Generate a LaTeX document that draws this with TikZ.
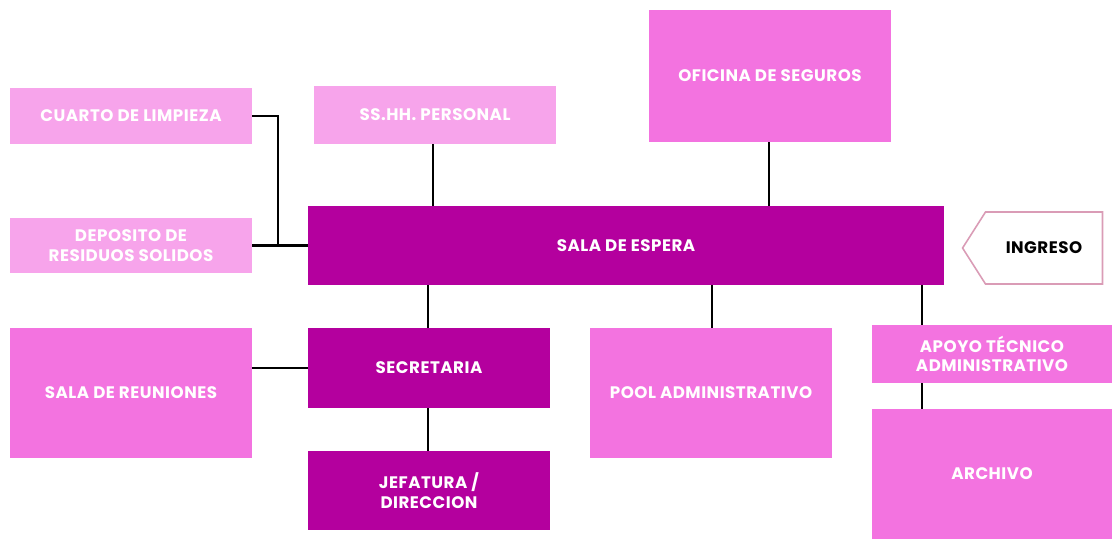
\documentclass[tikz,border=0pt]{standalone}
\usepackage{fontspec}
\setmainfont{Poppins}[LetterSpace=3]
\usetikzlibrary{shapes.symbols}
\definecolor{rosaclaro}{HTML}{F7A4EB}
\definecolor{rosamedio}{HTML}{F373E0}
\definecolor{magenta}{HTML}{B4009E}
\definecolor{borde}{HTML}{DA9CB6}
\tikzset{
  area/.style={text=white,font=\bfseries\fontsize{9.5}{11}\selectfont,align=center,inner sep=0pt},
  claro/.style={area,fill=rosaclaro},
  medio/.style={area,fill=rosamedio},
  oscuro/.style={area,fill=magenta},
  enlace/.style={line width=1.2pt,black}
}
\begin{document}
\begin{tikzpicture}[x=0.02cm,y=-0.02cm]
\useasboundingbox (0,0) rectangle (1112,539);
\node[claro,minimum width=4.84cm,minimum height=1.12cm] (cuarto) at (131,116) {CUARTO DE LIMPIEZA};
\node[claro,minimum width=4.84cm,minimum height=1.16cm] (sshh) at (435,115) {SS.HH. PERSONAL};
\node[medio,minimum width=4.84cm,minimum height=2.64cm] (seguros) at (770,76) {OFICINA DE SEGUROS};
\node[claro,minimum width=4.84cm,minimum height=1.10cm] (deposito) at (131,245.5) {DEPOSITO DE\\RESIDUOS SOLIDOS};
\node[oscuro,minimum width=12.72cm,minimum height=1.58cm] (espera) at (626,245.5) {SALA DE ESPERA};
\node[signal,signal to=west,signal pointer angle=115,draw=borde,line width=0.9pt,fill=white,
  minimum width=2.8cm,minimum height=1.44cm,inner sep=0pt,font=\bfseries\fontsize{9.5}{11}\selectfont] (ingreso) at (1044,248) {INGRESO};
\node[medio,minimum width=4.84cm,minimum height=2.60cm] (reuniones) at (131,393) {SALA DE REUNIONES};
\node[oscuro,minimum width=4.84cm,minimum height=1.60cm] (secretaria) at (429,368) {SECRETARIA};
\node[oscuro,minimum width=4.84cm,minimum height=1.58cm] (jefatura) at (429,490.5) {JEFATURA /\\DIRECCION};
\node[medio,minimum width=4.84cm,minimum height=2.60cm] (pool) at (711,393) {POOL ADMINISTRATIVO};
\node[medio,minimum width=4.80cm,minimum height=1.16cm] (apoyo) at (992,354) {APOYO TÉCNICO\\ADMINISTRATIVO};
\node[medio,minimum width=4.80cm,minimum height=2.60cm] (archivo) at (992,474) {ARCHIVO};
% conexiones
\coordinate (codo) at (278,245.5);
\draw[enlace] (cuarto.east) -| (codo);
\draw[enlace] (deposito.east) -- (espera.west);
\draw[enlace] (sshh.south -| 433,0) -- (espera.north -| 433,0);
\draw[enlace] (seguros.south -| 769,0) -- (espera.north -| 769,0);
\draw[enlace] (espera.south -| 428,0) -- (secretaria.north -| 428,0);
\draw[enlace] (espera.south -| 712,0) -- (pool.north -| 712,0);
\draw[enlace] (espera.south -| 922,0) -- (apoyo.north -| 922,0);
\draw[enlace] (apoyo.south -| 922,0) -- (archivo.north -| 922,0);
\draw[enlace] (secretaria.west -| reuniones.east) -- (secretaria.west);
\draw[enlace] (secretaria.south -| 428,0) -- (jefatura.north -| 428,0);
\end{tikzpicture}
\end{document}
